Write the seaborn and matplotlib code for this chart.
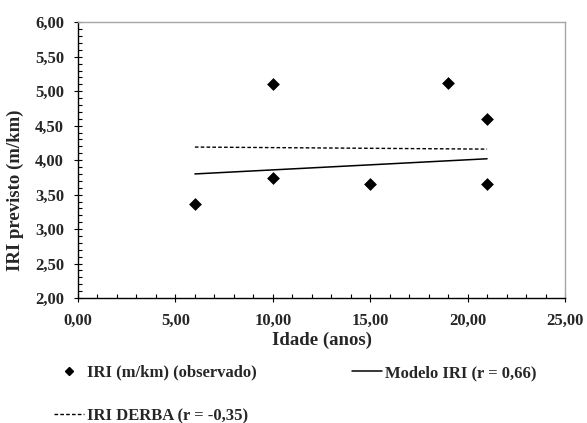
import matplotlib
matplotlib.use("Agg")
import matplotlib.pyplot as plt
import seaborn as sns
import pandas as pd
from matplotlib.lines import Line2D
from matplotlib.ticker import MultipleLocator, FuncFormatter

# Data
idade_obs = [6, 10, 10, 15, 19, 21, 21]
iri_obs = [3.36, 5.11, 3.74, 3.66, 5.12, 4.59, 3.65]
idade_lin = [6, 21]
iri_modelo = [3.80, 4.02]
iri_derba = [4.19, 4.16]

lab_obs = "IRI (m/km) (observado)"
lab_modelo = "Modelo IRI (r = 0,66)"
lab_derba = "IRI DERBA (r = -0,35)"

sns.set_theme(style="white")
plt.rcParams['font.family'] = ['Liberation Serif', 'DejaVu Serif']
plt.rcParams['font.weight'] = 'bold'

W, H = 587, 423
fig = plt.figure(figsize=(W / 100, H / 100), dpi=100)
ax = fig.add_axes([78 / W, 1 - 298 / H, (565 - 78) / W, (298 - 22.3) / H])

df_obs = pd.DataFrame({"x": idade_obs, "y": iri_obs})
df_lin = pd.DataFrame({"x": idade_lin, "m": iri_modelo, "d": iri_derba})

sns.lineplot(data=df_lin, x="x", y="d", ax=ax, color="black", lw=1.0,
             linestyle=(0, (2.6, 1.6)), legend=False)
sns.lineplot(data=df_lin, x="x", y="m", ax=ax, color="black", lw=1.1, legend=False)
sns.scatterplot(data=df_obs, x="x", y="y", ax=ax, marker="D", s=36,
                color="black", edgecolor="black", linewidth=0.5, legend=False, zorder=5)

ax.set_xlim(0, 25)
ax.set_ylim(2, 6)
ax.xaxis.set_major_locator(MultipleLocator(5))
ax.xaxis.set_minor_locator(MultipleLocator(1))
ax.yaxis.set_major_locator(MultipleLocator(0.5))
ax.yaxis.set_minor_locator(MultipleLocator(0.1))
fmt = FuncFormatter(lambda v, p: f"{v:.2f}".replace(".", ","))
ax.xaxis.set_major_formatter(fmt)
ax.yaxis.set_major_formatter(fmt)

ax.tick_params(axis="x", which="major", direction="inout", length=6, width=0.8,
               color="black", labelsize=12, pad=7.5, bottom=True)
ax.tick_params(axis="x", which="minor", direction="in", length=3, width=0.8,
               color="black", bottom=True)
ax.tick_params(axis="y", which="major", direction="inout", length=6, width=0.8,
               color="black", labelsize=12, pad=7, left=True)
ax.tick_params(axis="y", which="minor", direction="in", length=3, width=0.8,
               color="black", left=True)

for s in ["left", "bottom"]:
    ax.spines[s].set_color("black")
    ax.spines[s].set_linewidth(1.0)
for s in ["top", "right"]:
    ax.spines[s].set_color("#A6A6A6")
    ax.spines[s].set_linewidth(1.0)

ax.set_xlabel("Idade (anos)", fontsize=13.5, fontweight="bold", labelpad=2.5)
ax.set_ylabel("IRI previsto (m/km)", fontsize=13.5, fontweight="bold")
ax.yaxis.set_label_coords((24 - 78) / 487, (298 - 190) / (298 - 22.3))
ax.grid(False)

h_obs = Line2D([], [], marker="D", ls="none", color="black", markersize=4.5)
h_derba = Line2D([], [], color="black", lw=1.0, ls=(0, (2.6, 1.6)))
h_modelo = Line2D([], [], color="black", lw=1.1)

leg_kw = dict(frameon=False, prop={"family": "Liberation Serif", "weight": "bold", "size": 12},
              handlelength=1.8, handletextpad=0.2, borderpad=0, borderaxespad=0,
              labelspacing=1.65)
leg1 = fig.legend([h_obs, h_derba], [lab_obs, lab_derba], loc="center left",
                  bbox_to_anchor=(54 / W, 1 - 394.5 / H), **leg_kw)
leg2 = fig.legend([h_modelo], [lab_modelo], loc="center left",
                  bbox_to_anchor=(352 / W, 1 - 373 / H), **leg_kw)

fig.canvas.draw()
for lbl in ax.get_xticklabels() + ax.get_yticklabels():
    lbl.set_fontweight("bold")

fig.savefig("out.png", dpi=100)
